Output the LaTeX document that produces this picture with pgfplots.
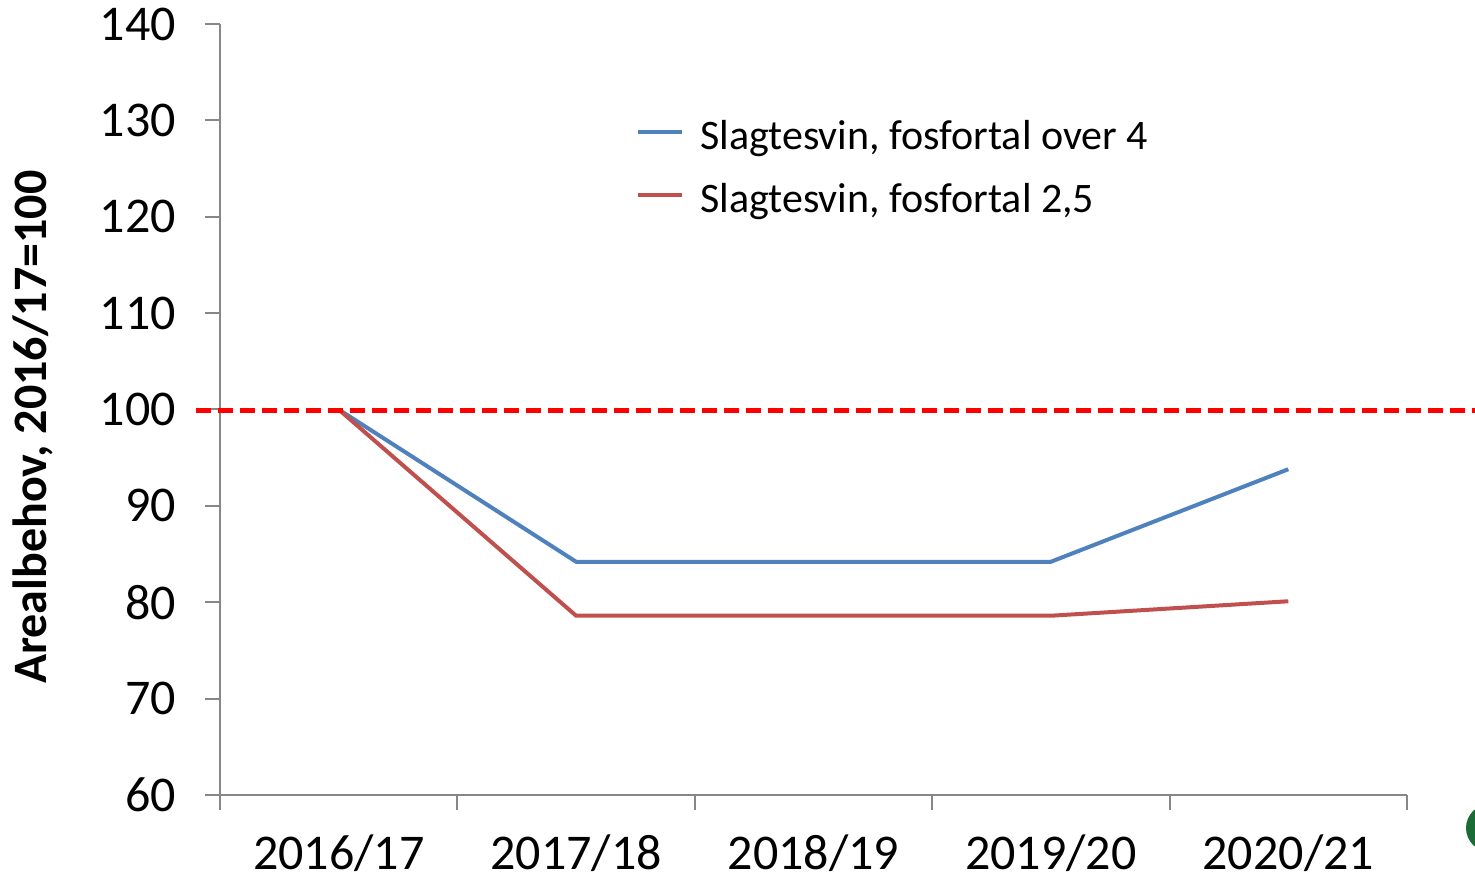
\documentclass[border=0pt]{standalone}
\usepackage{pgfplots}
\pgfplotsset{compat=1.18}
\usepackage{fontspec}
\setmainfont{Carlito}
\definecolor{serieblue}{HTML}{4F81BD}
\definecolor{seriered}{HTML}{C0504D}
\definecolor{axisgray}{HTML}{878787}
\definecolor{logogreen}{HTML}{1B6B36}
\begin{document}
\begin{tikzpicture}
\begin{axis}[
    name=ax,
    scale only axis,
    width=593.5pt, height=385.5pt,
    clip=false,
    axis lines*=left,
    axis line style={-, draw=axisgray, line width=1pt},
    tick style={draw=axisgray, line width=1pt},
    tick align=outside,
    major tick length=7.5pt,
    xmin=-0.5, xmax=4.5,
    ymin=60, ymax=140,
    ytick={60,70,...,140},
    xtick={-0.5,0.5,...,4.5},
    xticklabels={2016/17,2017/18,2018/19,2019/20,2020/21},
    x tick label as interval,
    /pgf/number format/assume math mode=true,
    ticklabel style={font=\fontsize{25}{29}\selectfont},
    xticklabel style={inner sep=0pt, yshift=-12pt},
    yticklabel style={xshift=-11pt},
    ylabel={\bfseries Arealbehov, 2016/17=100},
    ylabel style={font=\fontsize{24}{28}\selectfont, at={(axis description cs:-0.158,0.477)}, anchor=center},
    legend style={draw=none, fill=none, at={(axis description cs:0.350,0.876)}, anchor=north west,
        font=\fontsize{21}{25}\selectfont, inner sep=0pt,
        nodes={inner sep=0pt, text height=15pt, text depth=4pt},
        row sep=12.5pt},
    legend cell align=left,
    legend image code/.code={\draw[#1, line width=2.3pt] (0pt,0.35em) -- (22pt,0.35em);},
    /tikz/every odd column/.append style={column sep=8pt},
]
\addplot[serieblue, line width=2pt] coordinates {
(0,100) (1,84.2) (2,84.2) (3,84.2) (4,93.8)
};
\addplot[seriered, line width=2pt] coordinates {
(0,100) (1,78.6) (2,78.6) (3,78.6) (4,80.1)
};
\addplot[red, line width=2.5pt, dash pattern=on 7.5pt off 3.5pt, forget plot] coordinates {
(-0.6,99.85) (4.79,99.85)
};
\legend{{Slagtesvin, fosfortal over 4},{Slagtesvin, fosfortal 2,5}}
\end{axis}
\fill[logogreen] ([shift={(41.5pt,-16.5pt)}]ax.south east) circle (12pt);
\pgfresetboundingbox
\path[use as bounding box] ([shift={(-110pt,-45pt)}]ax.south west) rectangle ([shift={(34pt,12pt)}]ax.north east);
\end{tikzpicture}
\end{document}
